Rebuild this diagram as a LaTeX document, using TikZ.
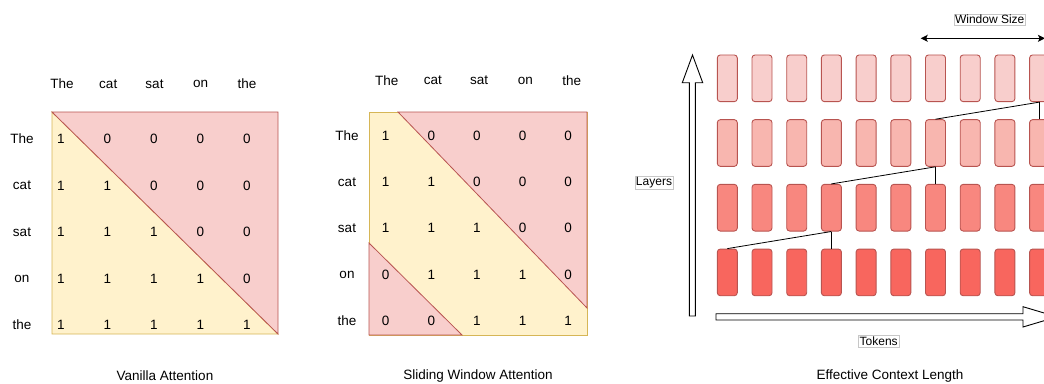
\documentclass[tikz,border=0pt]{standalone}
\usepackage{fontspec}
\setmainfont{Liberation Sans}
\usepackage{tikz}
\usetikzlibrary{arrows.meta}
\usetikzlibrary{positioning}

\definecolor{maskfill}{HTML}{F8CECC}
\definecolor{maskline}{HTML}{B85450}
\definecolor{keepfill}{HTML}{FFF2CC}
\definecolor{keepline}{HTML}{D6B656}
\definecolor{tokpale}{HTML}{F8CECC}
\definecolor{toklight}{HTML}{F8B6AF}
\definecolor{tokmid}{HTML}{F8877F}
\definecolor{tokdark}{HTML}{F8665E}

\tikzset{
	word/.style={font=\fontsize{13.5}{16}\selectfont, inner sep=0pt},
	caption/.style={font=\fontsize{13.5}{16}\selectfont, inner sep=0pt},
	tag/.style={font=\fontsize{12}{14}\selectfont, draw=black!22, fill=white, inner sep=1.2pt},
	masked/.style={fill=maskfill, draw=maskline, line width=0.8pt},
	kept/.style={fill=keepfill, draw=keepline, line width=0.8pt},
	token/.style={rectangle, rounded corners=3pt, draw=maskline, line width=0.9pt,
		minimum width=20pt, minimum height=46.7pt, inner sep=0pt},
	link/.style={draw=black, line width=0.8pt},
	bigarrow/.style={draw=black, fill=white, line width=0.9pt, line join=miter},
}

\begin{document}
\begin{tikzpicture}[x=1pt, y=-1pt]
	\useasboundingbox (0,0) rectangle (1044,383);

	% vanilla (causal) mask
	\draw[kept] (52,112) -- (52,334) -- (278,334) -- cycle;
	\draw[masked] (52,112) -- (278,112) -- (278,334) -- cycle;
	\foreach \w [count=\i] in {The,cat,sat,on,the} {
		\node[word] (va-col-\i) at ({62+46.25*(\i-1)},84) {\w};
		\node[word] (va-row-\i) at (22,{139+46.5*(\i-1)}) {\w};
	}
	\foreach \i in {1,...,5}
		\foreach \j in {1,...,5} {
			\pgfmathtruncatemacro\v{(\j<=\i)}
			\node[word] (va-\i-\j) at ({61+46.5*(\j-1)},{139+46.5*(\i-1)}) {\v};
		}
	\node[caption] (va-cap) at (165,376) {Vanilla Attention};

	% sliding window mask, window of 3
	\draw[kept] (369,112) rectangle (587,335);
	\draw[masked] (398,112) -- (587,112) -- (587,308) -- cycle;
	\draw[masked] (369,243) -- (462,335) -- (369,335) -- cycle;
	\foreach \w [count=\i] in {The,cat,sat,on,the} {
		\node[word] (sw-col-\i) at ({386.7+46.25*(\i-1)},80.7) {\w};
		\node[word] (sw-row-\i) at (347,{135.7+46.25*(\i-1)}) {\w};
	}
	\foreach \i in {1,...,5}
		\foreach \j in {1,...,5} {
			\pgfmathtruncatemacro\v{and(\j<=\i,\j>\i-3)}
			\node[word] (sw-\i-\j) at ({385.7+45.6*(\j-1)},{135.7+46.25*(\i-1)}) {\v};
		}
	\node[caption] (sw-cap) at (478,376) {Sliding Window Attention};

	% stacked layers of tokens
	\foreach \layer/\shade in {1/tokdark,2/tokmid,3/toklight,4/tokpale}
		\foreach \tok in {1,...,10}
			\node[token, fill=\shade] (l\layer c\tok) at ({727.3+34.7*(\tok-1)},{272.4-64.7*(\layer-1)}) {};

	% receptive field growing through the layers
	\draw[link] (l1c1.north) -- (l2c4.south);
	\draw[link] (l1c4.north) -- (l2c4.south);
	\draw[link] (l2c4.north) -- (l3c7.south);
	\draw[link] (l2c7.north) -- (l3c7.south);
	\draw[link] (l3c7.north) -- (l4c10.south);
	\draw[link] (l3c10.north) -- (l4c10.south);

	% axes
	\draw[bigarrow] (689.3,316) -- (689.3,82.7) -- (682.3,82.7) -- (692.5,55)
		-- (702.7,82.7) -- (695.3,82.7) -- (695.3,316) -- cycle;
	\draw[bigarrow] (716,313.7) -- (1023,313.7) -- (1023,306.7) -- (1057,316.85)
		-- (1023,327) -- (1023,320) -- (716,320) -- cycle;
	\node[tag] (layers) at (654,182.5) {Layers};
	\node[tag] (tokens) at (878.7,341.2) {Tokens};

	% window size marker
	\coordinate (win-l) at (920.7,38.3);
	\coordinate (win-r) at (1045,38.3);
	\draw[line width=0.9pt, {Stealth[length=7pt,width=7pt,inset=1.5pt]}-{Stealth[length=7pt,width=7pt,inset=1.5pt]}] (win-l) -- (win-r);
	\node[tag] (win-size) at (989.7,19.5) {Window Size};

	\node[caption] (ecl-cap) at (890,376.5) {Effective Context Length};
\end{tikzpicture}
\end{document}
